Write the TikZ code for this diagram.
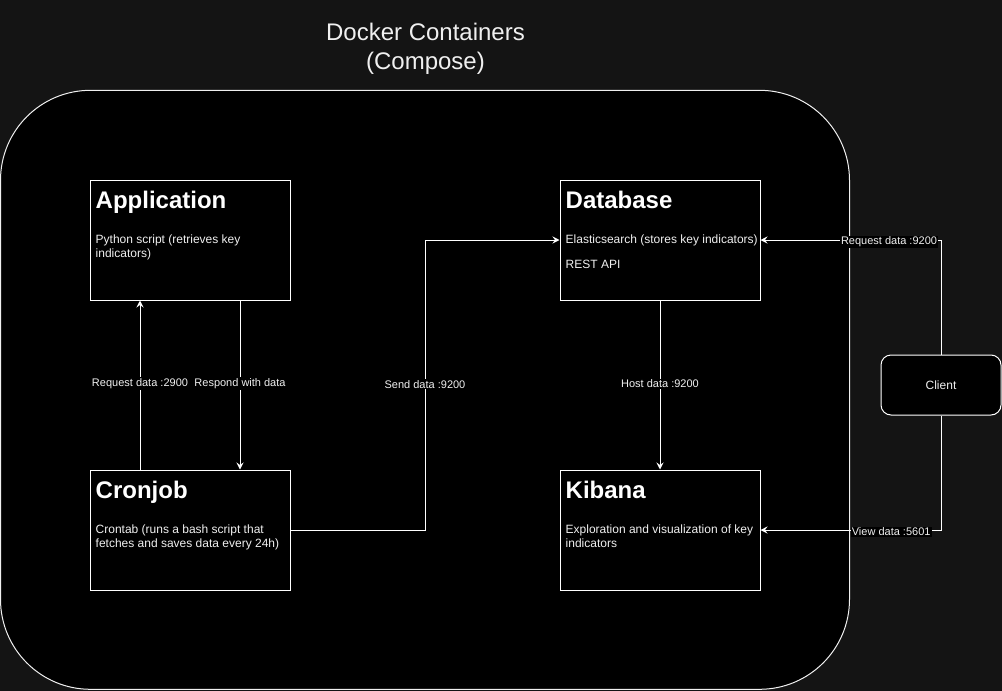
\documentclass[tikz,border=0pt]{standalone}
\usepackage{fontspec}
\setmainfont{Liberation Sans}
\usetikzlibrary{arrows.meta}
\definecolor{bg}{HTML}{141414}
\definecolor{fg}{HTML}{F0F0F0}
\tikzset{
  box/.style={draw=white, line width=1pt, fill=black, minimum width=200pt, minimum height=120pt, inner sep=0pt},
  ttl/.style={anchor=base west, inner sep=0pt, text=white, font=\fontsize{24}{29}\selectfont\bfseries},
  body/.style={anchor=base west, inner sep=0pt, text=fg, font=\fontsize{12}{14}\selectfont},
  lbl/.style={fill=black, text=fg, inner sep=1pt, yshift=-2pt, font=\fontsize{11}{13}\selectfont},
  arr/.style={draw=white, line width=1pt, -{Stealth[length=7pt,width=7pt,inset=2.5pt]}},
}
\begin{document}
\begin{tikzpicture}[x=1pt,y=-1pt]
\fill[bg] (0,0) rectangle (1002,691);
\useasboundingbox (0,0) rectangle (1002,691);

% container
\node[draw=fg, line width=1pt, fill=black, rounded corners=90pt, minimum width=849pt, minimum height=599pt, inner sep=0pt] (compose) at (425,389.8) {};
\node[anchor=base, inner sep=0pt, text=fg, font=\fontsize{24}{29}\selectfont] (title1) at (425.5,40) {Docker Containers};
\node[anchor=base, inner sep=0pt, text=fg, font=\fontsize{24}{29}\selectfont] (title2) at (425.5,69) {(Compose)};

% boxes
\node[box] (app) at (190,240) {};
\node[box] (db) at (660,240) {};
\node[box] (cron) at (190,530) {};
\node[box] (kib) at (660,530) {};
\node[draw=white, line width=1pt, fill=black, rounded corners=10pt, minimum width=120pt, minimum height=60pt, inner sep=0pt, text=fg, font=\fontsize{12}{14}\selectfont] (client) at (941,385) {Client};

% box texts
\node[ttl] (app-t) at ([shift={(6,29)}]app.north west) {Application};
\node[body] (app-1) at ([shift={(6,64)}]app.north west) {Python script (retrieves key};
\node[body] (app-2) at ([shift={(6,78)}]app.north west) {indicators)};

\node[ttl] (db-t) at ([shift={(6,29)}]db.north west) {Database};
\node[body] (db-1) at ([shift={(6,64)}]db.north west) {Elasticsearch (stores key indicators)};
\node[body] (db-2) at ([shift={(6,89)}]db.north west) {REST API};

\node[ttl] (cron-t) at ([shift={(6,29)}]cron.north west) {Cronjob};
\node[body] (cron-1) at ([shift={(6,64)}]cron.north west) {Crontab (runs a bash script that};
\node[body] (cron-2) at ([shift={(6,78)}]cron.north west) {fetches and saves data every 24h)};

\node[ttl] (kib-t) at ([shift={(6,29)}]kib.north west) {Kibana};
\node[body] (kib-1) at ([shift={(6,64)}]kib.north west) {Exploration and visualization of key};
\node[body] (kib-2) at ([shift={(6,78)}]kib.north west) {indicators};

% connectors
\draw[arr] ([xshift=-50pt]cron.north) -- node[lbl, pos=0.52] (l-req) {Request data :2900} ([xshift=-50pt]app.south);
\draw[arr] ([xshift=50pt]app.south) -- node[lbl, pos=0.48] (l-resp) {Respond with data} ([xshift=50pt]cron.north);
\coordinate (sj) at (425,240);
\draw[arr] (cron.east) -| node[lbl, pos=0.755] (l-send) {Send data :9200} (sj) -- (db.west);
\draw[arr] (db.south) -- node[lbl, pos=0.48] (l-host) {Host data :9200} (kib.north);
\draw[arr] (client.north) |- node[lbl, pos=0.644] (l-creq) {Request data :9200} (db.east);
\draw[arr] (client.south) |- node[lbl, pos=0.638] (l-view) {View data :5601} (kib.east);
\end{tikzpicture}
\end{document}
